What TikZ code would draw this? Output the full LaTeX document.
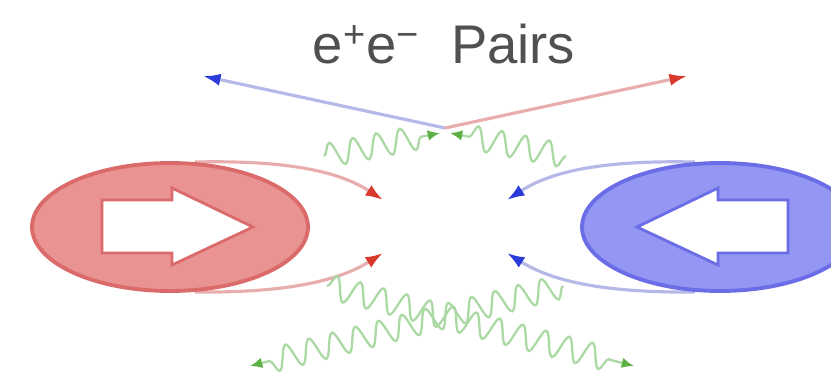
\documentclass[tikz,border=0pt]{standalone}
\usepackage{fontspec}
\setmainfont{Liberation Sans}
\usetikzlibrary{arrows.meta,decorations.pathmorphing,shapes.geometric,positioning}

\definecolor{beamred}{HTML}{E99393}
\definecolor{edgered}{HTML}{DB6B6B}
\definecolor{beamblue}{HTML}{9396F2}
\definecolor{edgeblue}{HTML}{6A6DE6}
\definecolor{palered}{HTML}{E8AEAE}
\definecolor{paleblue}{HTML}{B6B8E8}
\definecolor{palegreen}{HTML}{ABD9A3}
\definecolor{tipred}{HTML}{D8392B}
\definecolor{tipblue}{HTML}{2B3BDA}
\definecolor{tipgreen}{HTML}{5DB043}
\definecolor{titlegray}{HTML}{505050}

\tikzset{
  bunch/.style={ellipse, line width=2.2pt, minimum width=5.52cm, minimum height=2.56cm, inner sep=0pt},
  bigarrow/.style={fill=white, line width=1.6pt, line join=miter},
  elec/.style={draw=pale#1, line width=1.8pt, -{Latex[length=10pt,width=7pt,color=tip#1]}},
  photon/.style={draw=palegreen, line width=1.3pt, decorate,
    decoration={snake, amplitude=2.4mm, segment length=4.8mm, post length=3mm},
    -{Latex[length=7pt,width=6pt,color=tipgreen]}}
}

\begin{document}
\begin{tikzpicture}[x=0.02cm,y=-0.02cm]
    \useasboundingbox (0,0) rectangle (831,379);

    % end points of the electron lines
    \coordinate (lt0) at (195,162);
    \coordinate (lt1) at (383,200);
    \coordinate (lb0) at (195,292);
    \coordinate (lb1) at (383,253);
    \coordinate (rt0) at (695,162);
    \coordinate (rt1) at (507,200);
    \coordinate (rb0) at (695,292);
    \coordinate (rb1) at (507,253);

    % pair vertex and outgoing pair
    \coordinate (vtx) at (445,128);
    \coordinate (posi) at (203,76);
    \coordinate (elec) at (687,76);

    % photon ends
    \coordinate (gl) at (324,156);
    \coordinate (gr) at (566,156);
    \coordinate (gtl) at (440,133);
    \coordinate (gtr) at (450,133);
    \coordinate (gbl) at (327,286);
    \coordinate (gbr) at (563,286);
    \coordinate (gel) at (250,366);
    \coordinate (ger) at (634,366);

    \node[anchor=base, text=titlegray, font=\fontsize{31}{36}\selectfont] (ttl) at (444,63)
        {e\textsuperscript{+}e\textsuperscript{−}\hspace{0.3em} Pairs};

    \draw[elec=red] (lt0) .. controls (290,160) and (340,172) .. (lt1);
    \draw[elec=red] (lb0) .. controls (290,293) and (340,280) .. (lb1);
    \draw[elec=blue] (rt0) .. controls (600,160) and (550,172) .. (rt1);
    \draw[elec=blue] (rb0) .. controls (600,293) and (550,280) .. (rb1);

    \draw[elec=blue] (vtx) -- (posi);
    \draw[elec=red] (vtx) -- (elec);

    \draw[photon] (gl) -- (gtl);
    \draw[photon] (gr) -- (gtr);
    \draw[photon] (gbl) -- (ger);
    \draw[photon] (gbr) -- (gel);

    % the two bunches
    \node[bunch, fill=beamred, draw=edgered] (lbunch) at (170,227) {};
    \node[bunch, fill=beamblue, draw=edgeblue] (rbunch) at (720,227) {};

    \draw[bigarrow, draw=edgered] (102,200) -- (172,200) -- (172,188) -- (253,227)
        -- (172,265) -- (172,253) -- (102,253) -- cycle;
    \draw[bigarrow, draw=edgeblue] (788,200) -- (718,200) -- (718,188) -- (637,227)
        -- (718,265) -- (718,253) -- (788,253) -- cycle;
\end{tikzpicture}
\end{document}
